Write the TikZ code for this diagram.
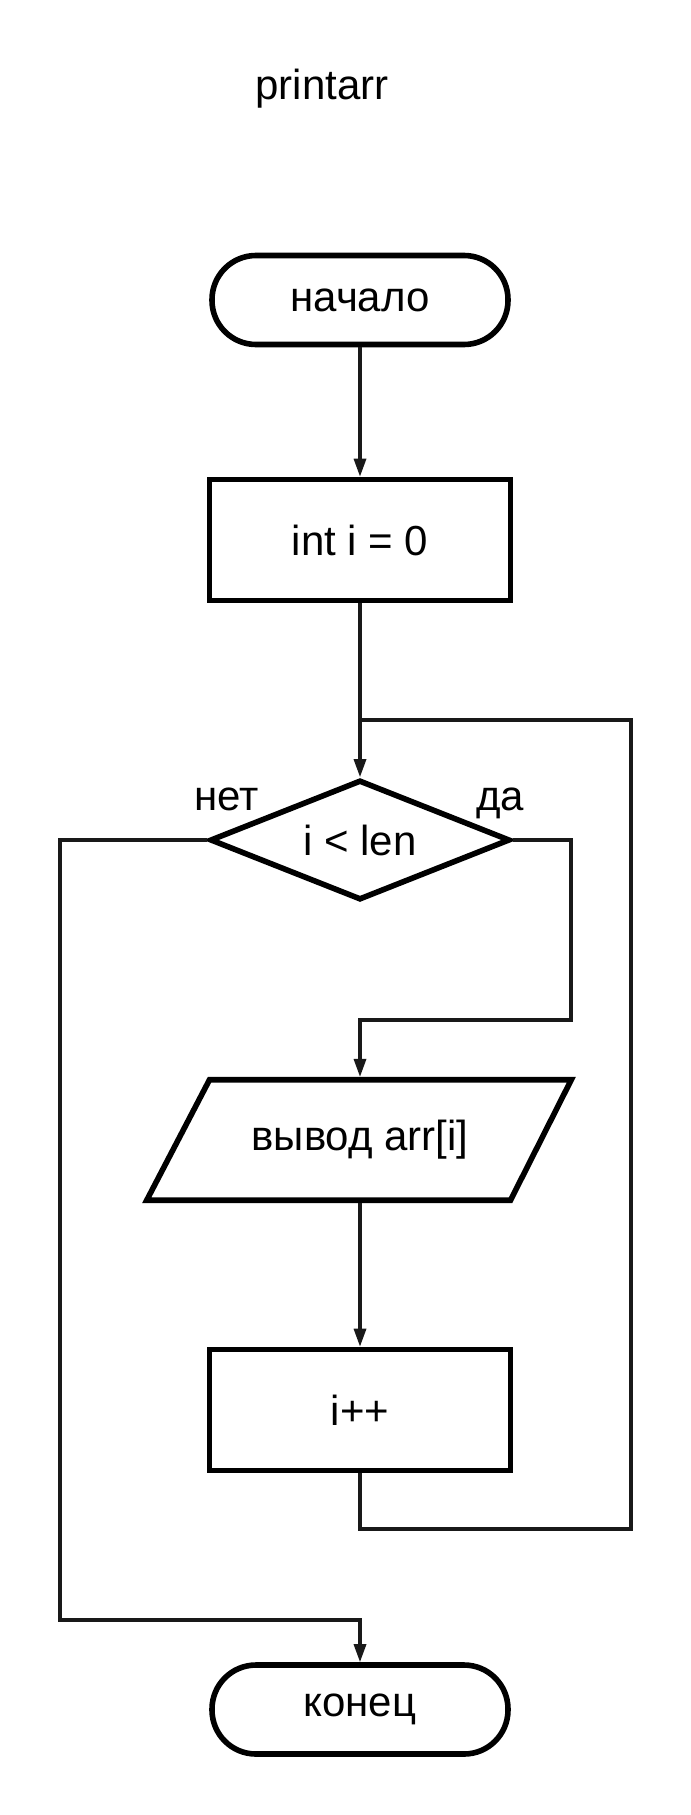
\documentclass[tikz,border=0pt]{standalone}
\usepackage{fontspec}
\setmainfont{Liberation Sans}
\usetikzlibrary{shapes.geometric,arrows.meta,calc}
\begin{document}
\begin{tikzpicture}[x=0.75pt,y=-0.75pt,
  font=\fontsize{31.5}{36}\selectfont,
  block/.style={draw, line width=4.2pt, inner sep=0pt, align=center},
  term/.style={block, rectangle, rounded corners=33pt,
    minimum width=222pt, minimum height=66.75pt},
  proc/.style={block, rectangle, minimum width=225.75pt, minimum height=90.75pt},
  decision/.style={block, diamond, aspect=2.5,
    minimum width=225pt, minimum height=90pt},
  iobody/.style={rectangle, inner sep=0pt, outer sep=2.1pt,
    minimum width=225.75pt, minimum height=90.4pt},
  flow/.style={line width=2.4pt, line join=miter, draw=black!90},
  arr/.style={flow, -{Triangle[length=13.5pt,width=9pt]}},
  lbl/.style={anchor=base, inner sep=0pt}
]
\fill[white] (0,0) rectangle (690,1815);
\useasboundingbox (0,0) rectangle (690,1815);

% title
\node[lbl] (title) at (322,100) {printarr};

% blocks
\node[term] (start) at (360,300) {начало};
\node[proc] (init) at (360,540) {int i = 0};
\node[decision] (cond) at (360,840) {i < len};
\node[iobody] (io) at (360,1140) {вывод arr[i]};
\draw[line width=4.2pt, line join=miter]
  ($(io.north west)+(2.1pt,-2.1pt)$) -- ($(io.north east)+(58,-2.1pt)$)
  -- ($(io.south east)+(-2.1pt,2.1pt)$) -- ($(io.south west)+(-60,2.1pt)$)
  -- cycle;
\node[proc] (inc) at (360,1410) {i++};
\node[term] (stop) at (360,1709.5) {конец};

% branch labels
\node[lbl] (no) at (227,810) {нет};
\node[lbl] (yes) at (500,810) {да};

% turning points
\coordinate (loopin) at (360,720);
\coordinate (loopbr) at (631,1529);
\coordinate (yesturn) at (571,1020);
\coordinate (noturn) at (60,1620);

% connectors
\draw[arr] (start) -- (init);
\draw[arr] (init) -- (cond);
\draw[arr] (cond.east) -| (yesturn) -| (io.north);
\draw[arr] (io) -- (inc);
\draw[flow] (inc.south) |- (loopbr) |- (loopin);
\draw[arr] (cond.west) -| (noturn) -| (stop.north);
\end{tikzpicture}
\end{document}
